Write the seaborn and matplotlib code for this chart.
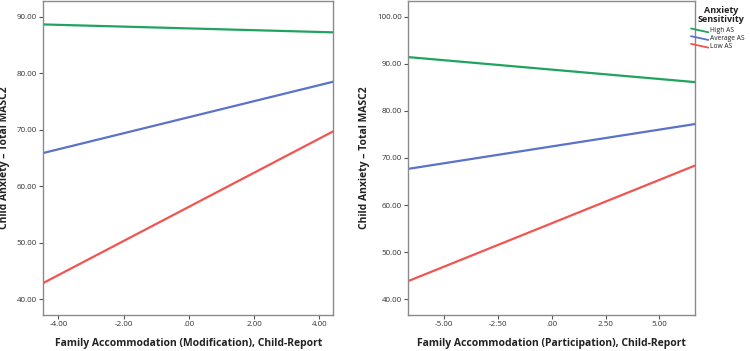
import matplotlib
matplotlib.use("Agg")
import matplotlib.pyplot as plt
import seaborn as sns
import pandas as pd
from matplotlib.lines import Line2D
from matplotlib.legend_handler import HandlerBase

# Data
groups = ["High AS", "Average AS", "Low AS"]
mod_x = [-4.45, 4.42]
mod_high = [88.65, 87.25]
mod_avg = [65.9, 78.5]
mod_low = [42.9, 69.7]
part_x = [-6.67, 6.66]
part_high = [91.4, 86.1]
part_avg = [67.7, 77.2]
part_low = [43.9, 68.4]
mod_xticks = [-4, -2, 0, 2, 4]
mod_xticklabels = ["-4.00", "-2.00", ".00", "2.00", "4.00"]
part_xticks = [-5, -2.5, 0, 2.5, 5]
part_xticklabels = ["-5.00", "-2.50", ".00", "2.50", "5.00"]
mod_yticks = [40, 50, 60, 70, 80, 90]
part_yticks = [40, 50, 60, 70, 80, 90, 100]
legend_title = ["Anxiety", "Sensitivity"]

colors = {"High AS": "#1fa35f", "Average AS": "#5a72c8", "Low AS": "#f2554f"}

def make_df(x, hi, av, lo):
    rows = []
    for g, ys in zip(groups, [hi, av, lo]):
        for xv, yv in zip(x, ys):
            rows.append({"x": xv, "y": yv, "group": g})
    return pd.DataFrame(rows)

df_mod = make_df(mod_x, mod_high, mod_avg, mod_low)
df_part = make_df(part_x, part_high, part_avg, part_low)

sns.set_style("white")
plt.rcParams["font.family"] = ["Open Sans", "DejaVu Sans"]

fig = plt.figure(figsize=(7.5, 3.51), dpi=100)
ax1 = fig.add_axes([43.3/750, 1 - 315/351, (333 - 43.3)/750, 314/351])
ax2 = fig.add_axes([408.3/750, 1 - 315/351, (695 - 408.3)/750, 314/351])

sns.lineplot(data=df_mod, x="x", y="y", hue="group", palette=colors, ax=ax1, lw=1.6, legend=False)
sns.lineplot(data=df_part, x="x", y="y", hue="group", palette=colors, ax=ax2, lw=1.6, legend=False)

def style(ax, xlim, ylim, xticks, xtl, yticks, xlabel):
    ax.set_xlim(*xlim)
    ax.set_ylim(*ylim)
    ax.set_xticks(xticks)
    ax.set_xticklabels(xtl)
    ax.set_yticks(yticks)
    ax.set_yticklabels([f"{v:.2f}" for v in yticks])
    ax.tick_params(axis="both", which="major", direction="out", length=3, width=0.8,
                   color="#555555", labelsize=5.8, labelcolor="#333333", pad=1.5,
                   left=True, bottom=True)
    for s in ax.spines.values():
        s.set_color("#8a8a8a")
        s.set_linewidth(1.0)
    ax.set_xlabel(xlabel, fontsize=7.5, fontweight="bold", color="#222222", labelpad=7)
    ax.set_ylabel("Child Anxiety \u2013 Total MASC2", fontsize=7.5, fontweight="bold",
                  color="#222222", labelpad=5)

style(ax1, (-4.46, 4.42), (37.2, 92.8), mod_xticks, mod_xticklabels, mod_yticks,
      "Family Accommodation (Modification), Child-Report")
style(ax2, (-6.67, 6.66), (36.7, 103.3), part_xticks, part_xticklabels, part_yticks,
      "Family Accommodation (Participation), Child-Report")


class DiagHandler(HandlerBase):
    def create_artists(self, legend, orig_handle, xdescent, ydescent, width, height,
                       fontsize, trans):
        l = Line2D([-xdescent, -xdescent + width], [height * 0.85, height * 0.05],
                   color=orig_handle.get_color(), lw=orig_handle.get_linewidth(),
                   transform=trans)
        return [l]

fig.text(721/750, 1 - 10.5/351, legend_title[0], ha="center", va="center",
         fontsize=6.5, fontweight="bold", color="#222222")
fig.text(721/750, 1 - 19/351, legend_title[1], ha="center", va="center",
         fontsize=6.5, fontweight="bold", color="#222222")

handles = [Line2D([], [], color=colors[g], lw=1.3) for g in groups]
leg = fig.legend(handles, groups, loc="upper left", bbox_to_anchor=(691/750, 1 - 27.5/351),
                 frameon=False, fontsize=4.8, labelcolor="#222222",
                 handlelength=2.6, handletextpad=0.2, labelspacing=0.1,
                 borderpad=0.0, borderaxespad=0,
                 handler_map={Line2D: DiagHandler()})

fig.savefig("out.png", dpi=100)
